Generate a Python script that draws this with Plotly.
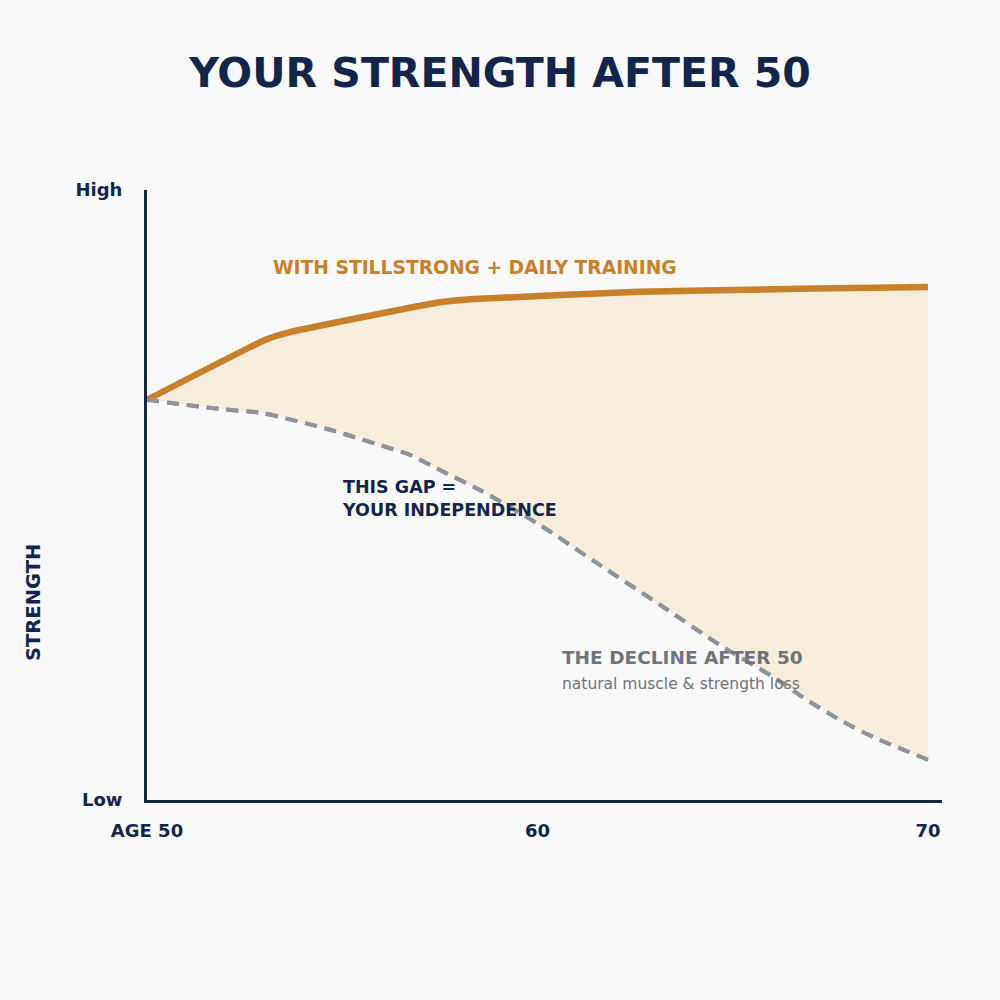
import plotly.graph_objects as go

# Data (age vs. relative strength, 0 = Low, 100 = High)
decline_age = [50, 51.87, 52.97, 54.69, 56.3, 56.73, 57.5, 58.53, 60.06, 61.6, 63.14, 64.67, 66.03, 66.9, 67.75, 68.6, 70]
decline_strength = [65.6, 64.1, 63.4, 60.7, 57.5, 56.6, 54.1, 50.8, 45.1, 38.5, 32.0, 25.4, 20.2, 16.4, 13.1, 10.3, 6.6]

train_age = [50, 53.02, 53.66, 57.5, 58.27, 62.6, 66.7, 70]
train_strength = [65.6, 75.4, 76.7, 81.6, 82.1, 83.3, 83.8, 84.1]

x_tickvals = [50, 60, 70]
x_ticktext = ["AGE 50", "60", "70"]
y_tickvals = [0, 100]
y_ticktext = ["Low", "High"]

NAVY = "#14254B"
ORANGE = "#C8802A"
GRAY = "#8E949C"
TEXTGRAY = "#6F747B"
FILL = "#F7EDDD"
BG = "#F9F9F9"
FONT = "DejaVu Sans, Montserrat, sans-serif"

fig = go.Figure()
fig.add_trace(go.Scatter(
    x=decline_age, y=decline_strength, mode="lines",
    line=dict(color=GRAY, width=4, dash="12px,8px", shape="spline", smoothing=0.6),
    hoverinfo="skip", showlegend=False))
fig.add_trace(go.Scatter(
    x=train_age, y=train_strength, mode="lines",
    line=dict(color=ORANGE, width=6.5, shape="spline", smoothing=0.4),
    fill="tonexty", fillcolor=FILL,
    hoverinfo="skip", showlegend=False))
# redraw dashed line on top of the fill
fig.add_trace(go.Scatter(
    x=decline_age, y=decline_strength, mode="lines",
    line=dict(color=GRAY, width=4, dash="12px,8px", shape="spline", smoothing=0.6),
    hoverinfo="skip", showlegend=False))

fig.update_layout(
    width=1000, height=1000,
    paper_bgcolor=BG, plot_bgcolor=BG,
    margin=dict(l=147, r=58, t=190, b=200),
    font=dict(family=FONT, color=NAVY),
    title=dict(text="<b>YOUR STRENGTH AFTER 50</b>", x=0.5, xanchor="center",
               y=1 - 73 / 1000, yanchor="middle", yref="container",
               font=dict(size=41, color=NAVY, family=FONT)),
    xaxis=dict(range=[50, 70.36], showgrid=False, zeroline=False,
               showline=True, linecolor=NAVY, linewidth=3,
               tickvals=x_tickvals, ticktext=x_ticktext,
               ticks="outside", ticklen=12, tickcolor="rgba(0,0,0,0)",
               tickfont=dict(size=18, color=NAVY, family=FONT, weight="bold")),
    yaxis=dict(range=[0, 100], showgrid=False, zeroline=False,
               showline=True, linecolor=NAVY, linewidth=3,
               tickvals=y_tickvals, ticktext=y_ticktext,
               ticks="outside", ticklen=18, tickcolor="rgba(0,0,0,0)",
               tickfont=dict(size=18, color=NAVY, family=FONT, weight="bold")),
)

ann = [
    dict(text="<b>WITH STILLSTRONG + DAILY TRAINING</b>", x=271, y=267, size=18.7, color=ORANGE),
    dict(text="<b>THIS GAP =<br>YOUR INDEPENDENCE</b>", x=340, y=499, size=17.5, color=NAVY),
    dict(text="<b>THE DECLINE AFTER 50</b>", x=560, y=657, size=18.5, color=TEXTGRAY),
    dict(text="natural muscle &amp; strength loss", x=560, y=684, size=15.5, color=TEXTGRAY),
]
for a in ann:
    fig.add_annotation(text=a["text"], xref="paper", yref="paper",
                       x=(a["x"] - 147) / 795, y=(800 - a["y"]) / 610,
                       xanchor="left", yanchor="middle", align="left", showarrow=False,
                       font=dict(size=a["size"], color=a["color"], family=FONT))

fig.add_annotation(text="<b>STRENGTH</b>", xref="paper", yref="paper",
                   x=(33 - 147) / 795, y=(800 - 603) / 610, textangle=-90,
                   xanchor="center", yanchor="middle", showarrow=False,
                   font=dict(size=19.5, color=NAVY, family=FONT))

fig.write_html("out.html")
